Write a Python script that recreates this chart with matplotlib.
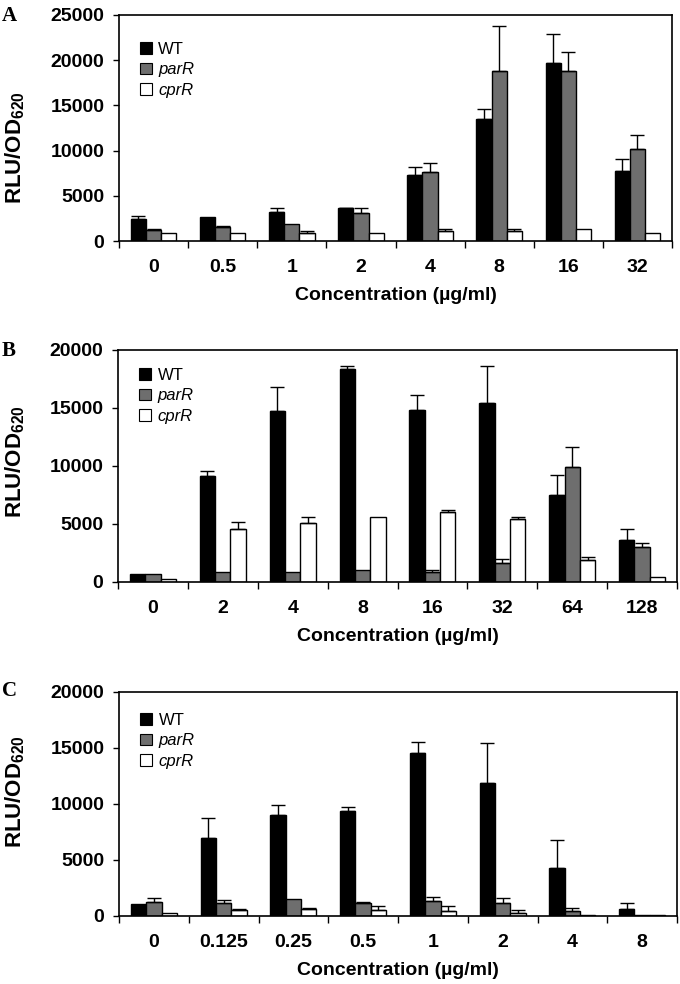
import matplotlib
matplotlib.use("Agg")
import matplotlib.pyplot as plt
import numpy as np
from matplotlib.patches import Patch
from matplotlib.ticker import FixedLocator, NullFormatter

plt.rcParams["mathtext.fontset"] = "custom"
plt.rcParams["mathtext.rm"] = "Liberation Sans:bold"
plt.rcParams["mathtext.bf"] = "Liberation Sans:bold"
plt.rcParams["mathtext.it"] = "Liberation Sans:bold"
plt.rcParams["mathtext.default"] = "bf"

# ---------------- data ----------------
series_names = ["WT", "parR", "cprR"]

a_labels = ["0", "0.5", "1", "2", "4", "8", "16", "32"]
a_wt = [2450, 2600, 3200, 3650, 7250, 13550, 19700, 7750]
a_wt_err = [320, 0, 500, 50, 900, 1050, 3150, 1330]
a_par = [1250, 1500, 1850, 3150, 7600, 18750, 18750, 10200]
a_par_err = [80, 160, 0, 550, 1080, 5000, 2200, 1500]
a_cpr = [900, 900, 900, 900, 1150, 1150, 1300, 900]
a_cpr_err = [0, 0, 230, 0, 130, 130, 0, 0]

b_labels = ["0", "2", "4", "8", "16", "32", "64", "128"]
b_wt = [700, 9100, 14750, 18350, 14850, 15450, 7500, 3600]
b_wt_err = [0, 430, 2100, 280, 1300, 3150, 1720, 950]
b_par = [700, 850, 850, 1000, 850, 1600, 9950, 3000]
b_par_err = [0, 0, 0, 0, 150, 380, 1720, 320]
b_cpr = [300, 4600, 5050, 5600, 6050, 5450, 1900, 430]
b_cpr_err = [0, 570, 550, 0, 120, 120, 260, 0]

c_labels = ["0", "0.125", "0.25", "0.5", "1", "2", "4", "8"]
c_wt = [1030, 6970, 9050, 9350, 14550, 11880, 4300, 600]
c_wt_err = [0, 1770, 860, 410, 1030, 3570, 2500, 530]
c_par = [1270, 1150, 1480, 1120, 1300, 1120, 410, 120]
c_par_err = [320, 320, 0, 150, 440, 470, 300, 0]
c_cpr = [270, 500, 650, 560, 410, 300, 120, 120]
c_cpr_err = [0, 90, 60, 300, 440, 270, 0, 0]

# ---------------- style ----------------
SANS = "Liberation Sans"
SERIF = "Liberation Serif"
colors = ["#000000", "#6e6e6e", "#ffffff"]

fig = plt.figure(figsize=(6.8, 9.84), dpi=100)

W, H = 680.0, 984.0


def rect(l, r, t, b):
    return [l / W, 1 - b / H, (r - l) / W, (b - t) / H]


panels = [
    dict(rect=rect(119, 672, 15, 241), labels=a_labels, ymax=25000,
         data=[(a_wt, a_wt_err), (a_par, a_par_err), (a_cpr, a_cpr_err)],
         letter="A", letter_xy=(2, 6), ylab_y=148, leg_top=42),
    dict(rect=rect(118, 677, 350, 582), labels=b_labels, ymax=20000,
         data=[(b_wt, b_wt_err), (b_par, b_par_err), (b_cpr, b_cpr_err)],
         letter="B", letter_xy=(2, 341), ylab_y=462, leg_top=368),
    dict(rect=rect(119, 677, 692, 916), labels=c_labels, ymax=20000,
         data=[(c_wt, c_wt_err), (c_par, c_par_err), (c_cpr, c_cpr_err)],
         letter="C", letter_xy=(2, 681), ylab_y=792, leg_top=713),
]

bw = 0.22
for p in panels:
    ax = fig.add_axes(p["rect"])
    n = len(p["labels"])
    x = np.arange(n)
    handles = []
    for k, (vals, errs) in enumerate(p["data"]):
        pos = x + (k - 1) * bw
        ax.bar(pos, vals, width=bw, color=colors[k], edgecolor="black",
               linewidth=1.0, zorder=2)
        up = np.array(errs, dtype=float)
        mask = up > 0
        if mask.any():
            ax.errorbar(pos[mask], np.array(vals)[mask],
                        yerr=[np.zeros(mask.sum()), up[mask]],
                        fmt="none", ecolor="black", elinewidth=1.0,
                        capsize=5, capthick=1.0, zorder=3)
        handles.append(Patch(facecolor=colors[k], edgecolor="black", linewidth=0.8))

    ax.set_xlim(-0.5, n - 0.5)
    ax.set_ylim(0, p["ymax"])
    ax.set_yticks(np.arange(0, p["ymax"] + 1, 5000))
    ax.set_yticklabels([str(v) for v in range(0, p["ymax"] + 1, 5000)],
                       fontfamily=SANS, fontweight="bold", fontsize=14)
    ax.tick_params(axis="y", direction="out", length=4.5, width=1.0, pad=6)

    ax.set_xticks(x)
    ax.set_xticklabels(p["labels"], fontfamily=SANS, fontweight="bold", fontsize=14)
    ax.tick_params(axis="x", which="major", length=0, pad=13)
    ax.xaxis.set_minor_locator(FixedLocator(np.arange(-0.5, n, 1.0)))
    ax.xaxis.set_minor_formatter(NullFormatter())
    ax.tick_params(axis="x", which="minor", direction="out", length=5, width=1.0)

    ax.set_xlabel("Concentration (\u00b5g/ml)", fontfamily=SANS, fontweight="bold",
                  fontsize=14, labelpad=8)

    for s in ax.spines.values():
        s.set_linewidth(1.2)

    # y label
    fig.text(15 / W, 1 - p["ylab_y"] / H, r"RLU/OD$_{620}$", rotation=90,
             ha="center", va="center", fontfamily=SANS, fontweight="bold", fontsize=16)

    # panel letter
    fig.text(p["letter_xy"][0] / W, 1 - p["letter_xy"][1] / H, p["letter"],
             ha="left", va="top", fontfamily=SERIF, fontweight="bold", fontsize=15)

    # legend
    l, b, w, h = p["rect"]
    leg_x = (140 - 119) / 553.0
    leg_y = 1 - (p["leg_top"] - (H - (b + h) * H)) / (h * H)
    leg = ax.legend(handles, series_names, loc="upper left",
                    bbox_to_anchor=(leg_x, leg_y), frameon=False,
                    prop={"family": SANS, "size": 12},
                    handlelength=0.7, handleheight=0.7, handletextpad=0.4,
                    labelspacing=0.32, borderaxespad=0, borderpad=0)
    for t in leg.get_texts()[1:]:
        t.set_fontstyle("italic")

fig.savefig("out.png", dpi=100)
